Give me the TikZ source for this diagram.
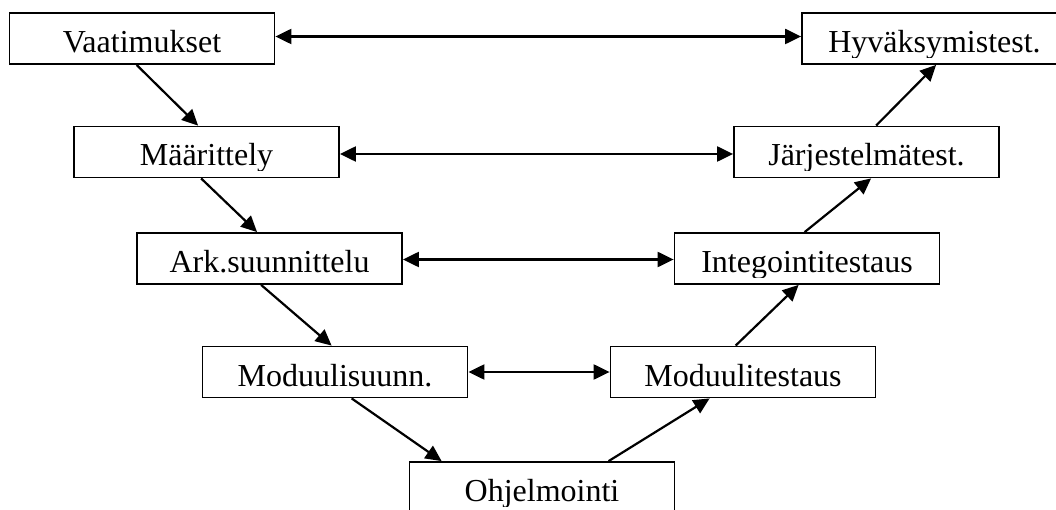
\documentclass[tikz,border=0pt]{standalone}
\usepackage{fontspec}
\setmainfont{Liberation Serif}
\usetikzlibrary{arrows.meta}

\tikzset{
  stage/.style={draw, line width=1.8pt, rectangle, inner sep=0pt,
    minimum width=265pt, minimum height=51pt,
    path picture={
      \clip (path picture bounding box.north west)
        rectangle ([yshift=6.5pt]path picture bounding box.south east);
      \node[draw=none, fill=none, inner sep=0pt, minimum size=0pt,
        anchor=base, font=\fontsize{32}{32}\selectfont]
        at ([yshift=-14pt]path picture bounding box.center) {#1};}},
  flow/.style={line width=2.2pt, -{Triangle[length=16pt,width=15pt]}},
  both/.style={line width=2.2pt, {Triangle[length=16pt,width=15pt]}-{Triangle[length=16pt,width=15pt]}}
}

\begin{document}
\begin{tikzpicture}[x=1pt,y=-1pt]
  \useasboundingbox (0,0) rectangle (1056,510);
  \clip (0,0) rectangle (1056,510);

  % left branch: specification and design
  \node[stage=Vaatimukset]       (vaat) at (142,38.5)   {};
  \node[stage=Määrittely]        (maar) at (206.5,152)  {};
  \node[stage=Ark.suunnittelu]   (ark)  at (269.5,258.5){};
  \node[stage=Moduulisuunn.]     (msu)  at (335,372)    {};
  \node[stage=Ohjelmointi]       (ohj)  at (542,487.5)  {};

  % right branch: testing
  \node[stage=Moduulitestaus]    (mte)  at (743,372)    {};
  \node[stage=Integointitestaus] (int)  at (807,258.5)  {};
  \node[stage=Järjestelmätest.]  (jar)  at (866.5,152)  {};
  \node[stage=Hyväksymistest.]   (hyv)  at (934.5,38.5) {};

  % downward flow
  \draw[flow] ([xshift=128pt]vaat.south west) -- ([xshift=125pt]maar.north west);
  \draw[flow] ([xshift=128pt]maar.south west) -- ([xshift=121pt]ark.north west);
  \draw[flow] ([xshift=125pt]ark.south west)  -- ([xshift=130pt]msu.north west);
  \draw[flow] ([xshift=150pt]msu.south west)  -- ([xshift=33pt]ohj.north west);

  % upward flow
  \draw[flow] ([xshift=200pt]ohj.north west)  -- ([xshift=100pt]mte.south west);
  \draw[flow] ([xshift=126pt]mte.north west)  -- ([xshift=125pt]int.south west);
  \draw[flow] ([xshift=131pt]int.north west)  -- ([xshift=138pt]jar.south west);
  \draw[flow] ([xshift=143pt]jar.north west)  -- ([xshift=135pt]hyv.south west);

  % verification links
  \draw[both] ([yshift=2pt]vaat.east) -- ([yshift=2pt]hyv.west);
  \draw[both] ([yshift=-2pt]maar.east) -- ([yshift=-2pt]jar.west);
  \draw[both] ([yshift=-1pt]ark.east) -- ([yshift=-1pt]int.west);
  \draw[both] (msu.east) -- (mte.west);
\end{tikzpicture}
\end{document}
